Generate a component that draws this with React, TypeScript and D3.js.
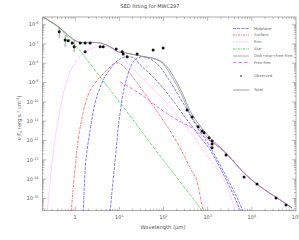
import * as d3 from "d3";

type Pt = [number, number];

// wavelength (micron), nu F_nu (erg s^-1 cm^-2)
const starSed: Pt[] = [
  [0.189, 2.54e-6], [0.272, 1.48e-6], [0.392, 8.17e-7], [0.535, 4.24e-7], [0.77, 1.63e-7],
  [1.11, 6.67e-8], [1.68, 2.02e-8], [2.83, 4.28e-9], [6.19, 4.19e-10], [17.5, 1.88e-11],
  [49.8, 7.51e-13], [141, 3.38e-14], [400, 1.52e-15], [873, 1.4e-16],
];

const rimSed: Pt[] = [
  [0.233, 2.0e-16], [0.258, 2.76e-15], [0.286, 3.0e-14], [0.318, 2.57e-13], [0.353, 1.37e-12],
  [0.412, 1.17e-11], [0.482, 7.87e-11], [0.564, 4.19e-10], [0.659, 1.38e-9], [0.77, 3.58e-9],
  [0.901, 7.33e-9], [1.3, 2.42e-8], [2.18, 5.57e-8], [3.68, 7.97e-8], [6.19, 6.28e-8],
  [8.03, 4.39e-8], [10.4, 2.42e-8], [17.5, 7.33e-9], [49.8, 6.75e-10], [141, 5.51e-11],
  [400, 2.79e-12], [1133, 9.88e-14], [2475, 7.0e-15], [4390, 2.0e-16],
];

const surfaceSed: Pt[] = [
  [0.812, 2.0e-16], [0.855, 8.36e-16], [0.901, 3.5e-15], [1.0, 4.29e-14], [1.17, 1.07e-12],
  [1.44, 1.67e-11], [1.97, 2.31e-10], [2.83, 9.64e-10], [3.68, 1.97e-9], [4.77, 3.58e-9],
  [6.19, 6.51e-9], [7.63, 9.89e-9], [9.4, 1.05e-8], [13.5, 5.78e-9], [25.3, 9.64e-10],
  [58.2, 6.21e-11], [141, 3.14e-12], [238, 4.14e-13], [400, 3.8e-14], [576, 7.0e-15],
  [787, 2.54e-16], [873, 9.77e-17],
];

const midplaneInner: Pt[] = [
  [1.52, 2.0e-16], [1.6, 2.76e-15], [1.68, 3.0e-14], [1.87, 3.26e-13], [2.18, 3.54e-12],
  [2.83, 8.87e-11], [3.49, 4.19e-10], [4.3, 1.38e-9], [5.58, 3.58e-9], [7.24, 8.26e-9],
  [10.4, 1.69e-8], [14.3, 2.15e-8], [20.5, 2.02e-8], [29.6, 8.26e-9], [58.2, 1.97e-9],
  [141, 1.82e-10], [342, 1.17e-11], [673, 1.54e-12], [1133, 3.26e-13], [1909, 3.8e-14],
  [3213, 3.5e-15], [5410, 2.54e-16], [6000, 1.4e-16],
];

const midplaneOuter: Pt[] = [
  [6.19, 2.0e-16], [6.87, 2.76e-15], [7.63, 3.0e-14], [8.47, 3.26e-13], [9.4, 4.5e-12],
  [10.4, 2.69e-11], [12.2, 2.92e-10], [15.0, 1.97e-9], [17.5, 5.78e-9], [21.6, 1.33e-8],
  [26.6, 1.91e-8], [34.5, 2.15e-8], [49.8, 1.69e-8], [71.6, 9.31e-9], [121, 1.97e-9],
  [183, 4.19e-10], [277, 8.87e-11], [576, 5.07e-12], [1133, 4.66e-13], [1909, 5.44e-14],
  [3566, 3.5e-15], [6320, 2.0e-16], [7020, 9.77e-17],
];

const freeFreeSed: Pt[] = [
  [10.4, 1.09e-9], [29.6, 2.6e-10], [83.8, 4.34e-11], [203, 1.17e-11], [444, 4.5e-12],
  [969, 1.21e-12], [2230, 3.26e-13], [7790, 1.47e-14], [17000, 3.5e-15], [37200, 1.06e-15],
  [81300, 3.22e-16],
];

const diskStarFreeFree: Pt[] = [
  [0.189, 2.54e-6], [0.272, 1.48e-6], [0.392, 8.67e-7], [0.535, 4.78e-7], [0.695, 2.79e-7],
  [0.901, 1.73e-7], [1.17, 1.29e-7], [1.68, 1.14e-7], [2.42, 1.21e-7], [3.68, 1.14e-7],
  [5.03, 8.98e-8], [6.87, 6.28e-8], [9.4, 3.9e-8], [13.5, 3.46e-8], [22.8, 2.72e-8],
  [38.4, 2.15e-8], [64.5, 1.69e-8], [98.0, 9.31e-9], [141, 2.82e-9], [203, 6.75e-10],
  [277, 1.61e-10], [400, 2.39e-11], [673, 3.99e-12], [1133, 1.07e-12], [2230, 2.89e-13],
  [7790, 1.47e-14], [17000, 3.5e-15], [37200, 1.06e-15], [81300, 3.22e-16],
];

const totalSed: Pt[] = [
  [0.189, 2.54e-6], [0.272, 1.48e-6], [0.392, 8.67e-7], [0.535, 4.78e-7], [0.695, 2.79e-7],
  [0.901, 1.73e-7], [1.17, 1.29e-7], [1.68, 1.14e-7], [2.42, 1.21e-7], [3.68, 1.14e-7],
  [5.03, 8.98e-8], [6.87, 6.28e-8], [9.4, 3.9e-8], [13.5, 3.46e-8], [22.8, 2.72e-8],
  [38.4, 2.15e-8], [64.5, 1.69e-8], [98.0, 1.05e-8], [141, 4.04e-9], [203, 9.64e-10],
  [277, 2.31e-10], [400, 3.42e-11], [673, 5.71e-12], [1133, 1.37e-12], [2230, 3.26e-13],
  [7790, 1.47e-14], [17000, 3.5e-15], [37200, 1.06e-15], [81300, 3.22e-16],
];

const observed: Pt[] = [
  [0.435, 4.24e-7], [0.594, 1.63e-7], [0.695, 1.45e-7], [0.855, 1.14e-7], [0.949, 7.08e-8],
  [1.3, 1.14e-7], [1.68, 1.14e-7], [1.68, 3.9e-8], [2.18, 1.14e-7], [3.68, 7.08e-8],
  [4.3, 7.08e-8], [8.47, 5.57e-8], [11.6, 3.9e-8], [12.2, 3.07e-8], [15.0, 2.15e-8],
  [25.3, 3.07e-8], [58.2, 4.94e-8], [98.0, 6.28e-8], [342, 3.85e-11], [444, 1.67e-11],
  [607, 5.07e-12], [747, 3.14e-12], [829, 2.48e-12], [1076, 1.37e-12], [1259, 9.53e-13],
  [1259, 6.67e-13], [1259, 4.14e-13], [2608, 1.79e-13], [6660, 1.3e-14], [13100, 5.64e-15],
  [35300, 1.06e-15], [59400, 4.6e-16],
];

// [wavelength, low, high]
const observedErr: [number, number, number][] = [
  [0.435, 2.07e-7, 7.69e-7],
  [0.594, 7.08e-8, 2.96e-7],
  [0.949, 3.9e-8, 1.63e-7],
];

const xTicks = [1, 10, 100, 1000, 1e4, 1e5];
const xTickExp = ["", "1", "2", "3", "4", "5"];
const yTickExp = [-6, -7, -8, -9, -10, -11, -12, -13, -14, -15];

const series = [
  { name: "Midplane", data: [midplaneInner, midplaneOuter], color: "#5a5aff", dash: "3,1.2" },
  { name: "Surface", data: [surfaceSed], color: "#ff4a4a", dash: "2.4,0.9,0.7,0.9" },
  { name: "Rim", data: [rimSed], color: "#ff9cff", dash: "0.9,0.7" },
  { name: "Star", data: [starSed], color: "#33cc33", dash: "2.4,0.9,0.7,0.9" },
  { name: "Disk+star+free-free", data: [diskStarFreeFree], color: "#9a9a9a", dash: "" },
  { name: "Free-free", data: [freeFreeSed], color: "#ff40ff", dash: "3.5,2" },
];

export default function App() {
  const width = 299;
  const height = 240;
  const margin = { top: 17, right: 3, bottom: 29.3, left: 42.3 };
  const x0 = margin.left, x1 = width - margin.right;
  const y0 = height - margin.bottom, y1 = margin.top;

  const x = d3.scaleLog().domain([0.18, 1e5]).range([x0, x1]);
  const y = d3.scaleLog().domain([2.3e-16, 2.5e-6]).range([y0, y1]);

  const line = d3.line<Pt>()
    .x(d => x(d[0]))
    .y(d => y(d[1]))
    .curve(d3.curveMonotoneX);

  const xMinor: number[] = [];
  for (let e = -1; e <= 4; e++) for (let k = 1; k <= 9; k++) {
    const v = k * Math.pow(10, e);
    if (v >= 0.18 && v <= 1e5) xMinor.push(v);
  }
  const yMinor: number[] = [];
  for (let e = -16; e <= -6; e++) for (let k = 1; k <= 9; k++) {
    const v = k * Math.pow(10, e);
    if (v >= 2.3e-16 && v <= 2.5e-6) yMinor.push(v);
  }

  const axisColor = "#777";
  const textColor = "#555";
  const font = "DejaVu Sans, sans-serif";
  const legendY = [28.5, 35, 42, 49, 56, 62.5];

  return (
    <svg width={width} height={height} style={{ position: "absolute", left: 0, top: 0 }} fontFamily={font}>
      <rect width={width} height={height} fill="#fff" />
      <defs>
        <clipPath id="plot">
          <rect x={x0} y={y1} width={x1 - x0} height={y0 - y1} />
        </clipPath>
      </defs>

      <text x={150} y={8} textAnchor="middle" fontSize={5} fill="#444">SED fitting for MWC297</text>

      {/* ticks */}
      {xMinor.map((v, i) => {
        const major = Math.abs(Math.log10(v) - Math.round(Math.log10(v))) < 1e-9;
        const len = major ? 4 : 2;
        return (
          <g key={"xm" + i} stroke={axisColor} strokeWidth={0.5}>
            <line x1={x(v)} x2={x(v)} y1={y0} y2={y0 - len} />
            <line x1={x(v)} x2={x(v)} y1={y1} y2={y1 + len} />
          </g>
        );
      })}
      {yMinor.map((v, i) => {
        const major = Math.abs(Math.log10(v) - Math.round(Math.log10(v))) < 1e-9;
        const len = major ? 4 : 2;
        return (
          <g key={"ym" + i} stroke={axisColor} strokeWidth={0.5}>
            <line x1={x0} x2={x0 + len} y1={y(v)} y2={y(v)} />
            <line x1={x1} x2={x1 - len} y1={y(v)} y2={y(v)} />
          </g>
        );
      })}

      {/* tick labels */}
      {xTicks.map((v, i) => (
        <text key={"xl" + i} x={x(v)} y={219} textAnchor="middle" fontSize={5} fill={textColor}>
          {xTickExp[i] === "" ? "1" : (
            <>10<tspan dy={-2} fontSize={3.4}>{xTickExp[i]}</tspan></>
          )}
        </text>
      ))}
      {yTickExp.map(e => (
        <text key={"yl" + e} x={38.5} y={y(Math.pow(10, e)) + 1.8} textAnchor="end" fontSize={5} fill={textColor}>
          10<tspan dy={-2} fontSize={3.4}>{String(e)}</tspan>
        </text>
      ))}

      <text x={163} y={229} textAnchor="middle" fontSize={5.2} fill={textColor}>Wavelength (μm)</text>
      <text transform={`translate(21,${(y0 + y1) / 2 + 4}) rotate(-90)`} textAnchor="middle" fontSize={5.2} fill={textColor}>
        ν F<tspan dy={1.2} fontSize={3.6}>ν</tspan><tspan dy={-1.2}>  (erg s</tspan>
        <tspan dy={-2} fontSize={3.6}>-1</tspan><tspan dy={2}> cm</tspan>
        <tspan dy={-2} fontSize={3.6}>-2</tspan><tspan dy={2}>)</tspan>
      </text>

      {/* curves */}
      <g clipPath="url(#plot)" fill="none">
        {series.map(s => s.data.map((d, j) => (
          <path key={s.name + j} d={line(d) ?? ""} stroke={s.color} strokeWidth={0.8} strokeDasharray={s.dash || undefined} />
        )))}
        <path d={line(totalSed) ?? ""} stroke="#8a8a8a" strokeWidth={0.8} />
        {observedErr.map((d, i) => (
          <line key={"e" + i} x1={x(d[0])} x2={x(d[0])} y1={y(d[1])} y2={y(d[2])} stroke="#555" strokeWidth={0.6} />
        ))}
        {observed.map((d, i) => (
          <circle key={"o" + i} cx={x(d[0])} cy={y(d[1])} r={1.5} fill="#111" />
        ))}
      </g>

      <rect x={x0} y={y1} width={x1 - x0} height={y0 - y1} fill="none" stroke={axisColor} strokeWidth={0.6} />

      {/* legend */}
      {series.map((s, i) => (
        <g key={"lg" + i}>
          <line x1={233} x2={249} y1={legendY[i]} y2={legendY[i]} stroke={s.color} strokeWidth={0.8} strokeDasharray={s.dash || undefined} />
          <text x={254} y={legendY[i] + 1.4} fontSize={3.8} fill="#666">{s.name}</text>
        </g>
      ))}
      <circle cx={241} cy={76} r={0.8} fill="#111" />
      <text x={254} y={77.4} fontSize={3.8} fill="#666">Observed</text>
      <line x1={233} x2={249} y1={90} y2={90} stroke="#8a8a8a" strokeWidth={0.8} />
      <text x={254} y={91.4} fontSize={3.8} fill="#666">Total</text>
    </svg>
  );
}
